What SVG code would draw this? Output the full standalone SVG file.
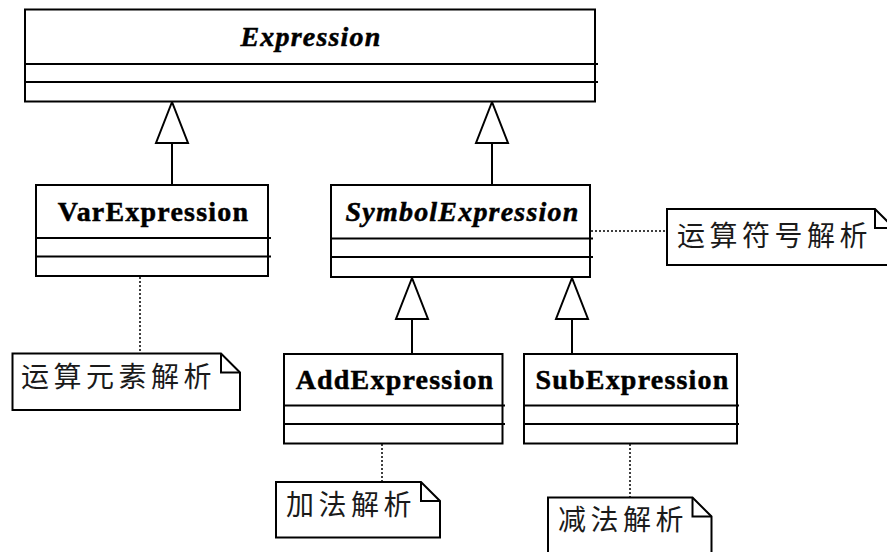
<svg xmlns="http://www.w3.org/2000/svg" width="887" height="552" viewBox="0 0 887 552">
<style>
.box{fill:#fff;stroke:#000;stroke-width:2}
.div{stroke:#000;stroke-width:2;fill:none}
.title{font-family:"Liberation Serif","Times New Roman",serif;font-size:28px;font-weight:bold;letter-spacing:1.2px;fill:#000;stroke:#000;stroke-width:0.5}
.it{font-style:italic}
.note{fill:#fff;stroke:#000;stroke-width:2;stroke-linejoin:miter}
.fold{fill:none;stroke:#000;stroke-width:2}
.ntext{font-family:"Noto Sans CJK SC","Noto Sans CJK JP",sans-serif;font-size:28px;letter-spacing:4.5px;fill:#1a1a1a}
.dot{stroke:#000;stroke-width:1.5;stroke-dasharray:2,2;fill:none}
.gen{stroke:#000;stroke-width:2;fill:none}
.tri{fill:#fff;stroke:#000;stroke-width:2;stroke-linejoin:miter}
</style>
<g id="connectors">
<line class="gen" x1="172" y1="143" x2="172" y2="185"/>
<polygon class="tri" points="172,102 156,143 188,143"/>
<line class="gen" x1="492" y1="143" x2="492" y2="185"/>
<polygon class="tri" points="492,102 476,143 508,143"/>
<line class="gen" x1="412" y1="319" x2="412" y2="354"/>
<polygon class="tri" points="412,278 396,319 428,319"/>
<line class="gen" x1="572" y1="319" x2="572" y2="354"/>
<polygon class="tri" points="572,278 556,319 588,319"/>
<line class="dot" x1="140" y1="277" x2="140" y2="353"/>
<line class="dot" x1="591" y1="231" x2="667" y2="231"/>
<line class="dot" x1="382" y1="444" x2="382" y2="482"/>
<line class="dot" x1="630" y1="444" x2="630" y2="497"/>
</g>
<g id="Expression">
<rect class="box" x="25" y="9.5" width="570" height="92"/>
<line class="div" x1="25" y1="64" x2="598" y2="64"/>
<line class="div" x1="25" y1="82" x2="598" y2="82"/>
<text class="title it" x="311" y="46" text-anchor="middle">Expression</text>
</g>
<g id="VarExpression">
<rect class="box" x="36" y="185" width="232" height="91"/>
<line class="div" x1="36" y1="238" x2="271" y2="238"/>
<line class="div" x1="36" y1="256.5" x2="271" y2="256.5"/>
<text class="title" x="153.5" y="221" text-anchor="middle">VarExpression</text>
</g>
<g id="SymbolExpression">
<rect class="box" x="331" y="185" width="259" height="92"/>
<line class="div" x1="331" y1="238.5" x2="593" y2="238.5"/>
<line class="div" x1="331" y1="257" x2="593" y2="257"/>
<text class="title it" x="462.5" y="221" text-anchor="middle">SymbolExpression</text>
</g>
<g id="AddExpression">
<rect class="box" x="284" y="354" width="218.5" height="89.5"/>
<line class="div" x1="284" y1="405.5" x2="505" y2="405.5"/>
<line class="div" x1="284" y1="424" x2="505" y2="424"/>
<text class="title" x="395" y="388.5" text-anchor="middle">AddExpression</text>
</g>
<g id="SubExpression">
<rect class="box" x="524" y="354" width="213" height="89.5"/>
<line class="div" x1="524" y1="405.5" x2="739" y2="405.5"/>
<line class="div" x1="524" y1="424" x2="739" y2="424"/>
<text class="title" x="632.5" y="388.5" text-anchor="middle">SubExpression</text>
</g>
<g id="note-var">
<path class="note" d="M12.5,353.5 H221 L240,372.5 V410 H12.5 Z"/>
<path class="fold" d="M221,353.5 V372.5 H240"/>
<text class="ntext" x="21" y="387">运算元素解析</text>
</g>
<g id="note-symbol">
<path class="note" d="M667,209 H875 L894,228 V265 H667 Z"/>
<path class="fold" d="M875,209 V228 H894"/>
<text class="ntext" x="677" y="246">运算符号解析</text>
</g>
<g id="note-add">
<path class="note" d="M276,482 H421 L440,501 V537.5 H276 Z"/>
<path class="fold" d="M421,482 V501 H440"/>
<text class="ntext" x="286" y="515">加法解析</text>
</g>
<g id="note-sub">
<path class="note" d="M548,497.5 H692.5 L711.5,516.5 V560 H548 Z"/>
<path class="fold" d="M692.5,497.5 V516.5 H711.5"/>
<text class="ntext" x="558" y="530">减法解析</text>
</g>
</svg>
